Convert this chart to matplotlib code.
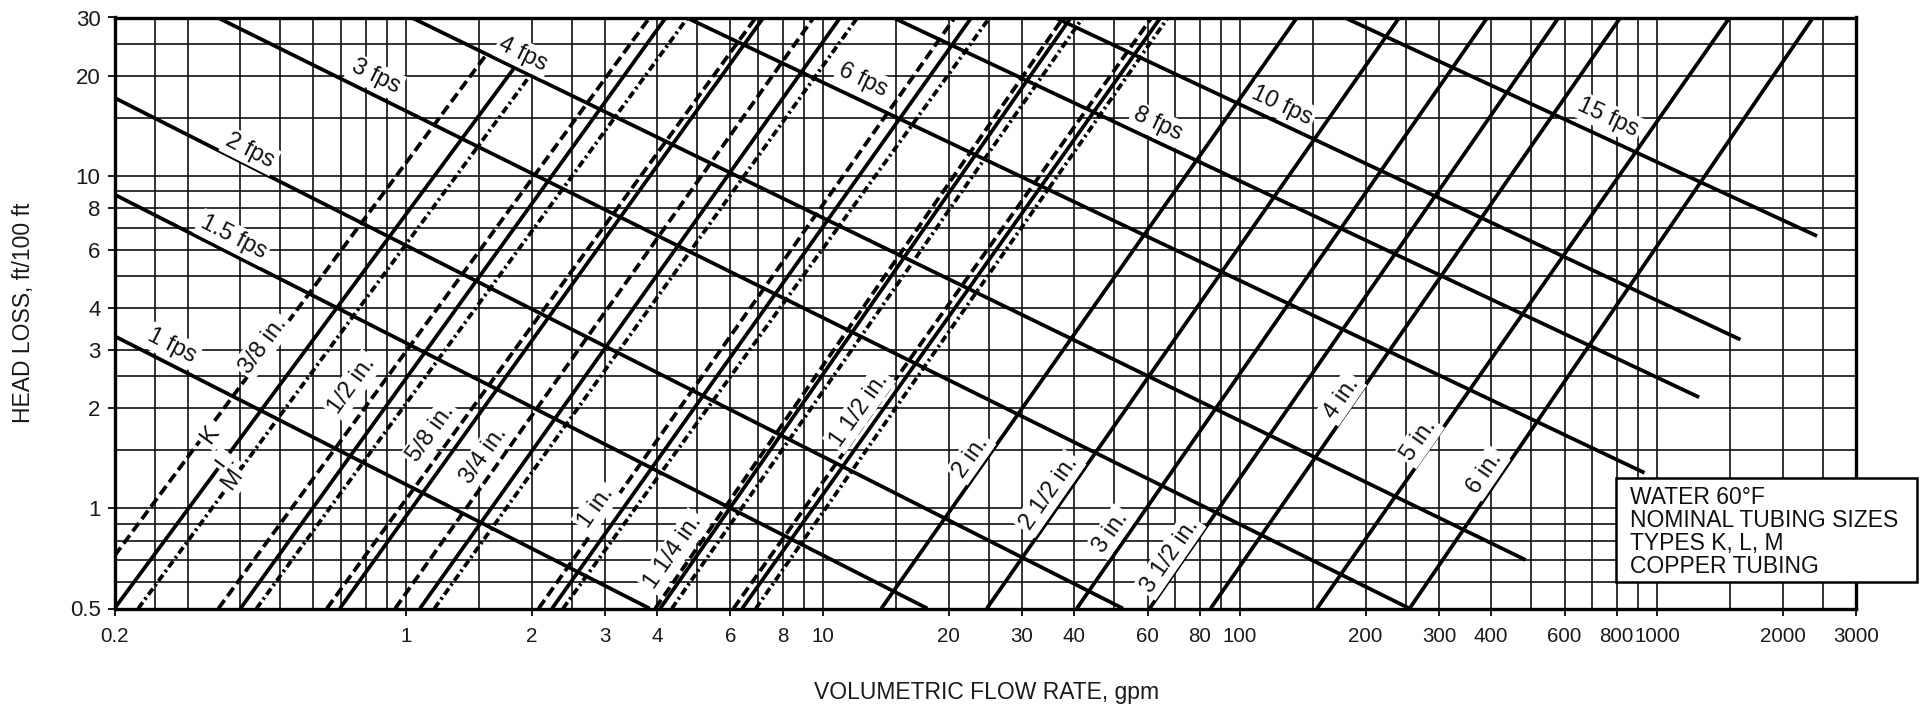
import numpy as np
import matplotlib
matplotlib.use("Agg")
import matplotlib.pyplot as plt
from matplotlib.patches import Rectangle

plt.rcParams['font.family'] = ['Liberation Sans', 'DejaVu Sans']
plt.rcParams['lines.scale_dashes'] = False

# ---------------- axes / ticks ----------------
x_ticks = [0.2, 1, 2, 3, 4, 6, 8, 10, 20, 30, 40, 60, 80, 100, 200, 300, 400,
           600, 800, 1000, 2000, 3000]
x_tick_labels = ['0.2', '1', '2', '3', '4', '6', '8', '10', '20', '30', '40', '60',
                 '80', '100', '200', '300', '400', '600', '800', '1000', '2000', '3000']
y_ticks = [0.5, 1, 2, 3, 4, 6, 8, 10, 20, 30]
y_tick_labels = ['0.5', '1', '2', '3', '4', '6', '8', '10', '20', '30']

x_grid = [0.2, 0.25, 0.3, 0.4, 0.5, 0.6, 0.7, 0.8, 0.9,
          1, 1.5, 2, 2.5, 3, 4, 5, 6, 7, 8, 9,
          10, 15, 20, 25, 30, 40, 50, 60, 70, 80, 90,
          100, 150, 200, 250, 300, 400, 500, 600, 700, 800, 900,
          1000, 1500, 2000, 2500, 3000]
y_grid = [0.5, 0.6, 0.7, 0.8, 0.9, 1, 1.5, 2, 2.5, 3, 4, 5, 6, 7, 8, 9,
          10, 15, 20, 25, 30]

# ---------------- velocity lines ----------------
vel_labels = ['1 fps', '1.5 fps', '2 fps', '3 fps', '4 fps', '6 fps', '8 fps', '10 fps', '15 fps']
vel_x_start = [0.2, 0.2, 0.2, 0.353, 1.03, 4.7, 14.7, 36, 178]
vel_y_start = [3.3, 8.8, 17.2, 30, 30, 30, 30, 30, 30]
vel_x_end = [3.84, 17.8, 52.4, 255, 484, 933, 1262, 1585, 2420]
vel_y_end = [0.5, 0.5, 0.5, 0.5, 0.70, 1.28, 2.16, 3.22, 6.6]
vel_label_x = [0.275, 0.385, 0.423, 0.845, 1.91, 12.5, 63.4, 126, 764]
vel_label_y = [3.08, 6.53, 11.9, 19.9, 23.2, 19.4, 14.3, 16.3, 15.0]

# ---------------- tubing lines ----------------
pipe_size = ['3/8', '3/8', '3/8', '1/2', '1/2', '1/2', '5/8', '5/8',
             '3/4', '3/4', '3/4', '1', '1', '1', '1 1/4', '1 1/4', '1 1/4',
             '1 1/2', '1 1/2', '1 1/2', '2', '2 1/2', '3', '3 1/2', '4', '5', '6']
pipe_type = ['K', 'L', 'M', 'K', 'L', 'M', 'K', 'L',
             'K', 'L', 'M', 'K', 'L', 'M', 'K', 'L', 'M',
             'K', 'L', 'M', 'L', 'L', 'L', 'L', 'L', 'L', 'L']
pipe_x_start = [0.2, 0.2, 0.228, 0.355, 0.401, 0.438, 0.646, 0.694,
                0.942, 1.08, 1.17, 2.08, 2.24, 2.38, 3.96, 4.07, 4.34,
                6.1, 6.4, 6.9, 13.8, 24.7, 40.6, 60.7, 85, 153, 255]
pipe_y_start = [0.72, 0.5, 0.5, 0.5, 0.5, 0.5, 0.5, 0.5,
                0.5, 0.5, 0.5, 0.5, 0.5, 0.5, 0.5, 0.5, 0.5,
                0.5, 0.5, 0.5, 0.5, 0.5, 0.5, 0.5, 0.5, 0.5, 0.5]
pipe_x_end = [1.55, 1.81, 1.98, 3.84, 4.2, 4.74, 6.9, 7.2,
              9.5, 11.0, 12.1, 20.7, 22.7, 25.1, 37.7, 39.3, 42,
              61.4, 64.5, 67.2, 137, 241, 392, 581, 817, 1493, 2367]
pipe_y_end = [23.0, 21.0, 20.0, 30, 30, 30, 30, 30,
              30, 30, 30, 30, 30, 30, 30, 30, 30,
              30, 30, 30, 30, 30, 30, 30, 30, 30, 30]

pipe_labels = ['3/8 in.', 'K', 'L', 'M', '1/2 in.', '5/8 in.', '3/4 in.', '1 in.',
               '1 1/4 in.', '1 1/2 in.', '2 in.', '2 1/2 in.', '3 in.', '3 1/2 in.',
               '4 in.', '5 in.', '6 in.']
pipe_label_x = [0.454, 0.338, 0.369, 0.383, 0.744, 1.15, 1.54, 2.86,
                4.38, 12.2, 22.6, 34.9, 49, 67.8, 175, 269, 387]
pipe_label_y = [3.1, 1.66, 1.38, 1.22, 2.35, 1.68, 1.45, 1.01,
                0.74, 1.98, 1.43, 1.11, 0.85, 0.72, 2.15, 1.6, 1.28]
pipe_label_line = [1, 0, 1, 2, 4, 7, 9, 12, 15, 18, 20, 21, 22, 23, 24, 25, 26]

note_lines = ['WATER 60°F', 'NOMINAL TUBING SIZES', 'TYPES K, L, M', 'COPPER TUBING']

# ---------------- figure ----------------
W, H = 1923, 707
fig = plt.figure(figsize=(W / 100, H / 100), dpi=100)
ax_l, ax_r, ax_t, ax_b = 114.5, 1856, 17.5, 608.5
ax = fig.add_axes([ax_l / W, 1 - ax_b / H, (ax_r - ax_l) / W, (ax_b - ax_t) / H])
ax.set_xscale('log')
ax.set_yscale('log')
ax.set_xlim(x_ticks[0], x_ticks[-1])
ax.set_ylim(y_ticks[0], y_ticks[-1])

for gx in x_grid:
    ax.axvline(gx, color='#111111', lw=1.2, zorder=1)
for gy in y_grid:
    ax.axhline(gy, color='#111111', lw=1.2, zorder=1)

ax.set_xticks(x_ticks)
ax.set_xticklabels(x_tick_labels)
ax.set_yticks(y_ticks)
ax.set_yticklabels(y_tick_labels)
ax.xaxis.set_minor_locator(matplotlib.ticker.NullLocator())
ax.yaxis.set_minor_locator(matplotlib.ticker.NullLocator())
ax.tick_params(axis='both', which='major', direction='out', length=5, width=1.4,
               colors='#1a1a1a')
ax.tick_params(axis='x', pad=8.5, labelsize=14.8)
ax.tick_params(axis='y', pad=5, labelsize=16)
for sp in ax.spines.values():
    sp.set_linewidth(2.4)
    sp.set_color('black')
    sp.set_zorder(5)

styles = {'K': (0, (7.5, 3.5)), 'L': '-', 'M': (0, (5.5, 2.5, 1.8, 2.5))}
LW = 2.7
for i in range(len(vel_labels)):
    ax.plot([vel_x_start[i], vel_x_end[i]], [vel_y_start[i], vel_y_end[i]],
            color='black', lw=LW, solid_capstyle='butt', zorder=2)
for i in range(len(pipe_size)):
    ax.plot([pipe_x_start[i], pipe_x_end[i]], [pipe_y_start[i], pipe_y_end[i]],
            color='black', lw=LW, linestyle=styles[pipe_type[i]],
            solid_capstyle='butt', dash_capstyle='butt', zorder=2)


def screen_angle(x0, y0, x1, y1):
    p0 = ax.transData.transform((x0, y0))
    p1 = ax.transData.transform((x1, y1))
    return np.degrees(np.arctan2(p1[1] - p0[1], p1[0] - p0[0]))


box = dict(boxstyle='square,pad=0.12', facecolor='white', edgecolor='none')
for i, lab in enumerate(vel_labels):
    ang = screen_angle(vel_x_start[i], vel_y_start[i], vel_x_end[i], vel_y_end[i])
    ax.text(vel_label_x[i], vel_label_y[i], lab, rotation=ang, rotation_mode='anchor',
            ha='center', va='center', fontsize=17, color='#111111', bbox=box, zorder=3)
for i, lab in enumerate(pipe_labels):
    j = pipe_label_line[i]
    ang = screen_angle(pipe_x_start[j], pipe_y_start[j], pipe_x_end[j], pipe_y_end[j])
    ax.text(pipe_label_x[i], pipe_label_y[i], lab, rotation=ang, rotation_mode='anchor',
            ha='center', va='center', fontsize=17, color='#111111', bbox=box, zorder=3)

# axis titles
fig.text(986.6 / W, 1 - 699 / H, 'VOLUMETRIC FLOW RATE, gpm', ha='center', va='baseline',
         fontsize=16.5, color='#1a1a1a')
fig.text(23.4 / W, 1 - 312.5 / H, 'HEAD LOSS, ft/100 ft', ha='center', va='center',
         rotation=90, fontsize=16.5, color='#1a1a1a')

# note box
bx0, bx1, by0, by1 = 1616, 1917, 478, 582
rect = Rectangle((bx0 / W, 1 - by1 / H), (bx1 - bx0) / W, (by1 - by0) / H,
                 transform=fig.transFigure, facecolor='white', edgecolor='black',
                 lw=1.8, zorder=10)
fig.patches.append(rect)
baselines = [504, 527, 550, 573]
for t, b in zip(note_lines, baselines):
    fig.text(1630.5 / W, 1 - b / H, t, ha='left', va='baseline', fontsize=16.5,
             color='#111111', zorder=11)

fig.savefig('out.png', dpi=100, facecolor='white')
